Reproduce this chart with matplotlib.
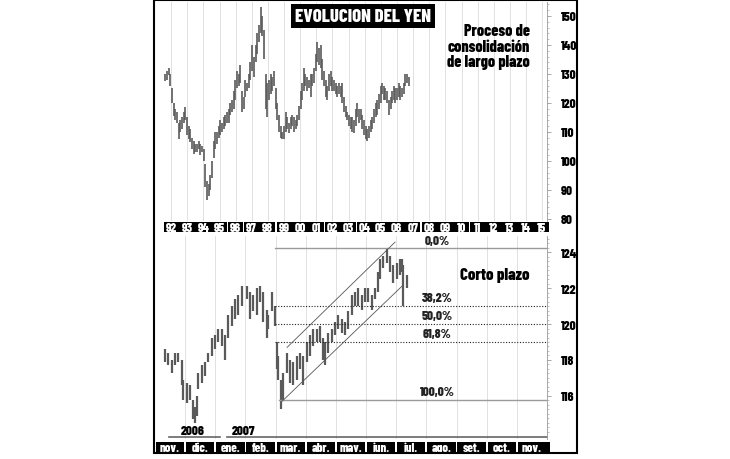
import numpy as np
import matplotlib
matplotlib.use("Agg")
import matplotlib.pyplot as plt
from matplotlib.patches import Rectangle

# ---- long-term data (year, high, low) ----
long_years = [1992.15, 1992.25, 1992.36, 1992.46, 1992.56, 1992.67, 1992.77, 1992.87, 1992.98, 1993.08,
              1993.18, 1993.29, 1993.39, 1993.49, 1993.60, 1993.70, 1993.80, 1993.91, 1994.01, 1994.11,
              1994.21, 1994.32, 1994.42, 1994.52, 1994.63, 1994.73, 1994.83, 1994.94, 1995.04, 1995.14,
              1995.25, 1995.35, 1995.45, 1995.56, 1995.66, 1995.76, 1995.87, 1995.97, 1996.07, 1996.18,
              1996.28, 1996.38, 1996.49, 1996.59, 1996.69, 1996.80, 1996.90, 1997.00, 1997.11, 1997.21,
              1997.31, 1997.42, 1997.52, 1997.62, 1997.73, 1997.83, 1997.93, 1998.04, 1998.14, 1998.24,
              1998.35, 1998.45, 1998.55, 1998.66, 1998.76, 1998.86, 1998.97, 1999.07, 1999.17, 1999.28,
              1999.38, 1999.48, 1999.59, 1999.69, 1999.79, 1999.90, 2000.00, 2000.10, 2000.21, 2000.31,
              2000.41, 2000.52, 2000.62, 2000.72, 2000.82, 2000.93, 2001.03, 2001.14, 2001.24, 2001.34,
              2001.45, 2001.55, 2001.65, 2001.76, 2001.86, 2001.96, 2002.07, 2002.17, 2002.27, 2002.38,
              2002.48, 2002.58, 2002.69, 2002.79, 2002.89, 2003.00, 2003.10, 2003.20, 2003.31, 2003.41,
              2003.51, 2003.62, 2003.72, 2003.82, 2003.93, 2004.03, 2004.13, 2004.24, 2004.34, 2004.44,
              2004.55, 2004.65, 2004.75, 2004.86, 2004.96, 2005.06, 2005.17, 2005.27, 2005.37, 2005.48,
              2005.58, 2005.68, 2005.78, 2005.89, 2005.99, 2006.10, 2006.20, 2006.30, 2006.40, 2006.51,
              2006.61, 2006.71, 2006.82, 2006.92, 2007.02, 2007.13, 2007.23]
long_high = [130, 131, 132, 130, 125, 120, 118, 117, 113, 114,
             115, 117, 118.5, 115, 112, 111, 108, 107, 106, 106,
             107, 106, 105, 104, 99, 93, 92, 95, 100, 107,
             110, 110, 112, 114, 113, 115, 116, 117, 118, 120,
             121, 124, 128, 131, 130, 133, 124, 122, 128, 127,
             130, 134, 140, 136, 140, 144, 147, 153, 150, 145,
             130, 127, 128, 130, 129, 131, 125, 120, 116, 112,
             110, 112, 117, 115, 113, 115, 116, 115, 114, 116,
             119, 124, 127, 132, 130, 129, 128, 130, 130, 132,
             137, 141, 139, 140, 135, 131, 128, 126, 130, 131,
             129, 128, 127, 126, 127, 126, 127, 122, 119, 117,
             116, 115, 115, 114, 118, 120, 118, 118, 116, 114,
             112, 111, 112, 114, 115, 118, 120, 121, 123, 126,
             127, 126, 125, 124, 121, 122, 124, 126, 125, 125,
             127, 126, 125, 127, 130, 130, 129]
long_low = [127.5, 128, 129.5, 126, 120, 115.5, 114, 113, 107.5, 110,
            111, 113, 114, 109, 107.5, 106.5, 104, 102.5, 103, 103,
            104, 102, 103, 100, 91, 86.5, 88, 90, 94, 101,
            104, 106, 108, 109, 110, 111, 112, 113, 113, 116,
            117, 118, 121, 125, 126, 127, 117, 118, 122, 124,
            125, 128, 131, 129, 134, 137, 141, 144, 143, 135,
            118, 115, 121, 123, 124, 126, 118, 114, 110, 108,
            107.5, 107.5, 110, 111, 109.5, 111, 112, 110, 111, 112,
            114, 118, 121, 124, 126, 124, 125, 122, 126, 127,
            131, 134, 133, 132, 128, 126, 122, 121, 124, 126,
            124, 124, 123, 122, 123, 122, 120, 117, 115, 114,
            112, 111, 110, 109.5, 112, 115, 113, 114, 111, 109,
            107.5, 107, 108, 110, 111, 113, 115, 116, 118, 120,
            123, 121, 121, 120, 116, 118, 120, 121, 120, 121,
            122, 121, 122, 123, 126, 127, 126]

# ---- short-term data (months since Nov 2006, high, low) ----
short_months = [0.33, 0.44, 0.55, 0.66, 0.77, 0.88, 0.94, 1.05, 1.16, 1.27,
                1.33, 1.38, 1.44, 1.55, 1.66, 1.77, 1.88, 1.99, 2.10, 2.21,
                2.32, 2.43, 2.54, 2.65, 2.76, 2.87, 3.04, 3.15, 3.26, 3.37,
                3.48, 3.59, 3.70, 3.76, 3.87, 3.98, 4.03, 4.09, 4.17, 4.26,
                4.37, 4.48, 4.59, 4.70, 4.81, 4.92, 5.03, 5.14, 5.25, 5.36,
                5.47, 5.58, 5.64, 5.75, 5.86, 5.97, 6.08, 6.19, 6.30, 6.41,
                6.52, 6.63, 6.74, 6.85, 6.96, 7.07, 7.18, 7.29, 7.41, 7.46,
                7.57, 7.68, 7.79, 7.90, 8.02, 8.13, 8.18, 8.24, 8.35]
short_high = [118.6, 118.4, 118.0, 118.4, 118.4, 118.0, 116.9, 116.7, 116.6, 115.8,
              115.4, 116.0, 117.3, 117.7, 117.9, 118.4, 119.2, 119.4, 119.7, 119.7,
              119.4, 120.5, 121.0, 121.4, 121.6, 122.1, 122.1, 121.8, 121.6, 122.0,
              122.1, 121.8, 120.8, 120.5, 121.8, 121.0, 119.0, 118.2, 116.9, 117.3,
              118.4, 118.0, 117.9, 118.2, 118.4, 118.2, 119.0, 119.4, 119.7, 119.7,
              119.9, 119.2, 119.0, 119.5, 119.7, 120.1, 120.5, 120.3, 120.1, 120.7,
              121.6, 121.8, 122.0, 121.6, 122.0, 122.0, 121.6, 122.0, 122.9, 123.6,
              123.8, 124.2, 123.8, 123.3, 123.4, 123.6, 123.6, 123.3, 122.7]
short_low = [117.9, 117.7, 117.3, 117.7, 117.9, 116.6, 115.8, 115.6, 115.8, 114.7,
             114.5, 114.9, 116.4, 116.7, 117.1, 117.9, 118.2, 118.6, 119.0, 118.8,
             118.0, 119.2, 119.9, 120.3, 120.5, 121.0, 121.4, 120.3, 120.7, 120.5,
             121.2, 120.1, 119.2, 119.7, 120.7, 119.9, 117.5, 116.9, 115.3, 115.8,
             117.3, 116.7, 116.6, 116.9, 117.5, 116.6, 117.9, 118.2, 118.8, 119.0,
             119.0, 118.0, 117.7, 118.4, 119.0, 119.4, 119.7, 119.5, 119.4, 119.7,
             120.5, 121.0, 121.0, 120.8, 121.2, 121.2, 120.8, 121.4, 121.8, 122.5,
             123.1, 123.4, 122.9, 122.3, 122.5, 122.7, 122.9, 121.0, 122.0]

# Fibonacci retracement, trend channel
fib_top, fib_bottom = 124.2, 115.8
fib_levels = [0.0, 0.382, 0.5, 0.618, 1.0]
fib_labels = ["0,0%", "38,2%", "50,0%", "61,8%", "100,0%"]
channel_upper = ([4.38, 7.96], [118.7, 124.55])
channel_lower = ([4.21, 8.19], [115.7, 122.1])

year_labels = ["92", "93", "94", "95", "96", "97", "98", "99", "00", "01", "02", "03",
               "04", "05", "06", "07", "08", "09", "10", "11", "12", "13", "14", "15"]
year_groups = [(1992, 1996), (1996, 1997), (1997, 1999), (1999, 2002), (2002, 2004),
               (2004, 2008), (2008, 2011), (2011, 2016)]
month_labels = ["nov.", "dic.", "ene.", "feb.", "mar.", "abr.", "may.", "jun.",
                "jul.", "ago.", "set.", "oct.", "nov."]

FONT = ["Barlow Condensed", "DejaVu Sans"]
W, H = 730, 460
BAR = "#5a5a5a"
GRID = "#dcdcdc"


def box(x0, y0, x1, y1):
    # pixel box (top-left origin) -> figure fraction rect
    return [x0 / W, 1 - y1 / H, (x1 - x0) / W, (y1 - y0) / H]


def fx(px):
    return px / W


def fy(py):
    return 1 - py / H


fig = plt.figure(figsize=(7.3, 4.6), dpi=100)
fig.patch.set_facecolor("white")

# ---------------- top panel ----------------
ax1 = fig.add_axes(box(155, 3, 547, 222))
ax1.set_xlim(1991.5, 2015.8)
ax1.set_ylim(79.3, 154.8)
for yr in range(1992, 2016):
    ax1.axvline(yr + 0.5, color=GRID, lw=0.6, zorder=0)
ax1.vlines(long_years, long_low, long_high, color=BAR, lw=1.2)

# ---------------- bottom panel ----------------
ax2 = fig.add_axes(box(155, 237, 547, 440))
ax2.set_xlim(0, 13)
ax2.set_ylim(113.61, 124.89)
for m in range(1, 13):
    ax2.axvline(m, color=GRID, lw=0.6, zorder=0)
ax2.vlines(short_months, short_low, short_high, color=BAR, lw=1.6)

for lev, lab in zip(fib_levels, fib_labels):
    y = fib_top - lev * (fib_top - fib_bottom)
    if lev in (0.0, 1.0):
        x0 = 3.97 if lev == 0.0 else 4.1
        ax2.plot([x0, 13], [y, y], color="#9a9a9a", lw=1.0)
    else:
        ax2.plot([3.97, 13], [y, y], color="#222222", lw=0.8, ls=(0, (1, 1.5)))
    ax2.text(9.35, y + 0.15, lab, ha="center", va="bottom", fontsize=9.5,
             fontweight="heavy", family=FONT, color="#222222")

ax2.plot(*channel_upper, color="#555555", lw=0.6)
ax2.plot(*channel_lower, color="#555555", lw=0.6)

# year marks under the short-term chart
ax2.text(1.25, 113.76, "2006", ha="center", va="bottom", fontsize=9.5, fontweight="heavy", family=FONT)
ax2.text(2.95, 113.76, "2007", ha="center", va="bottom", fontsize=9.5, fontweight="heavy", family=FONT)
ax2.plot([0.45, 2.15], [113.72, 113.72], color="#666666", lw=1.2, clip_on=False)
ax2.plot([2.4, 13], [113.72, 113.72], color="#666666", lw=1.2, clip_on=False)

for ax, major, minor in ((ax1, 10, 2), (ax2, 2, 0.25)):
    for s in ("top", "left", "bottom"):
        ax.spines[s].set_visible(False)
    ax.spines["right"].set_color("#999999")
    ax.spines["right"].set_linewidth(0.6)
    ax.set_xticks([])
    ax.yaxis.tick_right()
    ax.set_yticks(np.arange(80 if ax is ax1 else 116, 151 if ax is ax1 else 125, major))
    ax.set_yticks(np.arange(80 if ax is ax1 else 114, 155 if ax is ax1 else 125, minor), minor=True)
    ax.tick_params(axis="y", which="major", length=3, width=0.6, color="#999999", pad=7, labelsize=9.5)
    ax.tick_params(axis="y", which="minor", length=1.5, width=0.5, color="#aaaaaa")
    for t in ax.get_yticklabels():
        t.set_fontweight("heavy")
        t.set_family(FONT)
    ax.set_facecolor("white")

# ---------------- year band ----------------
axy = fig.add_axes(box(155, 223, 550, 233))
axy.set_xlim(1991.5, 2016.0)
axy.set_ylim(0, 1)
axy.axis("off")
for a, b in year_groups:
    axy.add_patch(Rectangle((a + 0.04, 0), b - a - 0.08, 1, color="black", lw=0))
for i, lab in enumerate(year_labels):
    axy.text(1992.5 + i, 0.45, lab, ha="center", va="center", color="white",
             fontsize=9, fontweight="heavy", family=FONT)

# ---------------- month band ----------------
axm = fig.add_axes(box(155, 443, 550, 453))
axm.set_xlim(0, 13.1)
axm.set_ylim(0, 1)
axm.axis("off")
for i, lab in enumerate(month_labels):
    width = 0.94 if i < 12 else 13.1 - i - 0.03
    axm.add_patch(Rectangle((i + 0.03, 0), width, 1, color="black", lw=0))
    axm.text(i + 0.5, 0.45, lab, ha="center", va="center", color="white",
             fontsize=9, fontweight="heavy", family=FONT)

# ---------------- texts ----------------
fig.text(fx(363), fy(17), "EVOLUCION DEL YEN", ha="center", va="center", color="white",
         fontsize=13.5, fontweight="heavy", family=FONT,
         bbox=dict(facecolor="black", edgecolor="none", pad=2.5))
fig.text(fx(530), fy(47), "Proceso de\nconsolidación\nde largo plazo", ha="right", va="center",
         fontsize=11.5, fontweight="heavy", family=FONT, linespacing=1.0)
fig.text(fx(530), fy(276), "Corto plazo", ha="right", va="center",
         fontsize=12, fontweight="heavy", family=FONT)

# outer frame
fig.add_artist(Rectangle((fx(154), fy(454)), fx(577) - fx(154), fy(1) - fy(454),
                         transform=fig.transFigure, fill=False, edgecolor="black", lw=1.5))

fig.savefig("out.png", dpi=100)
